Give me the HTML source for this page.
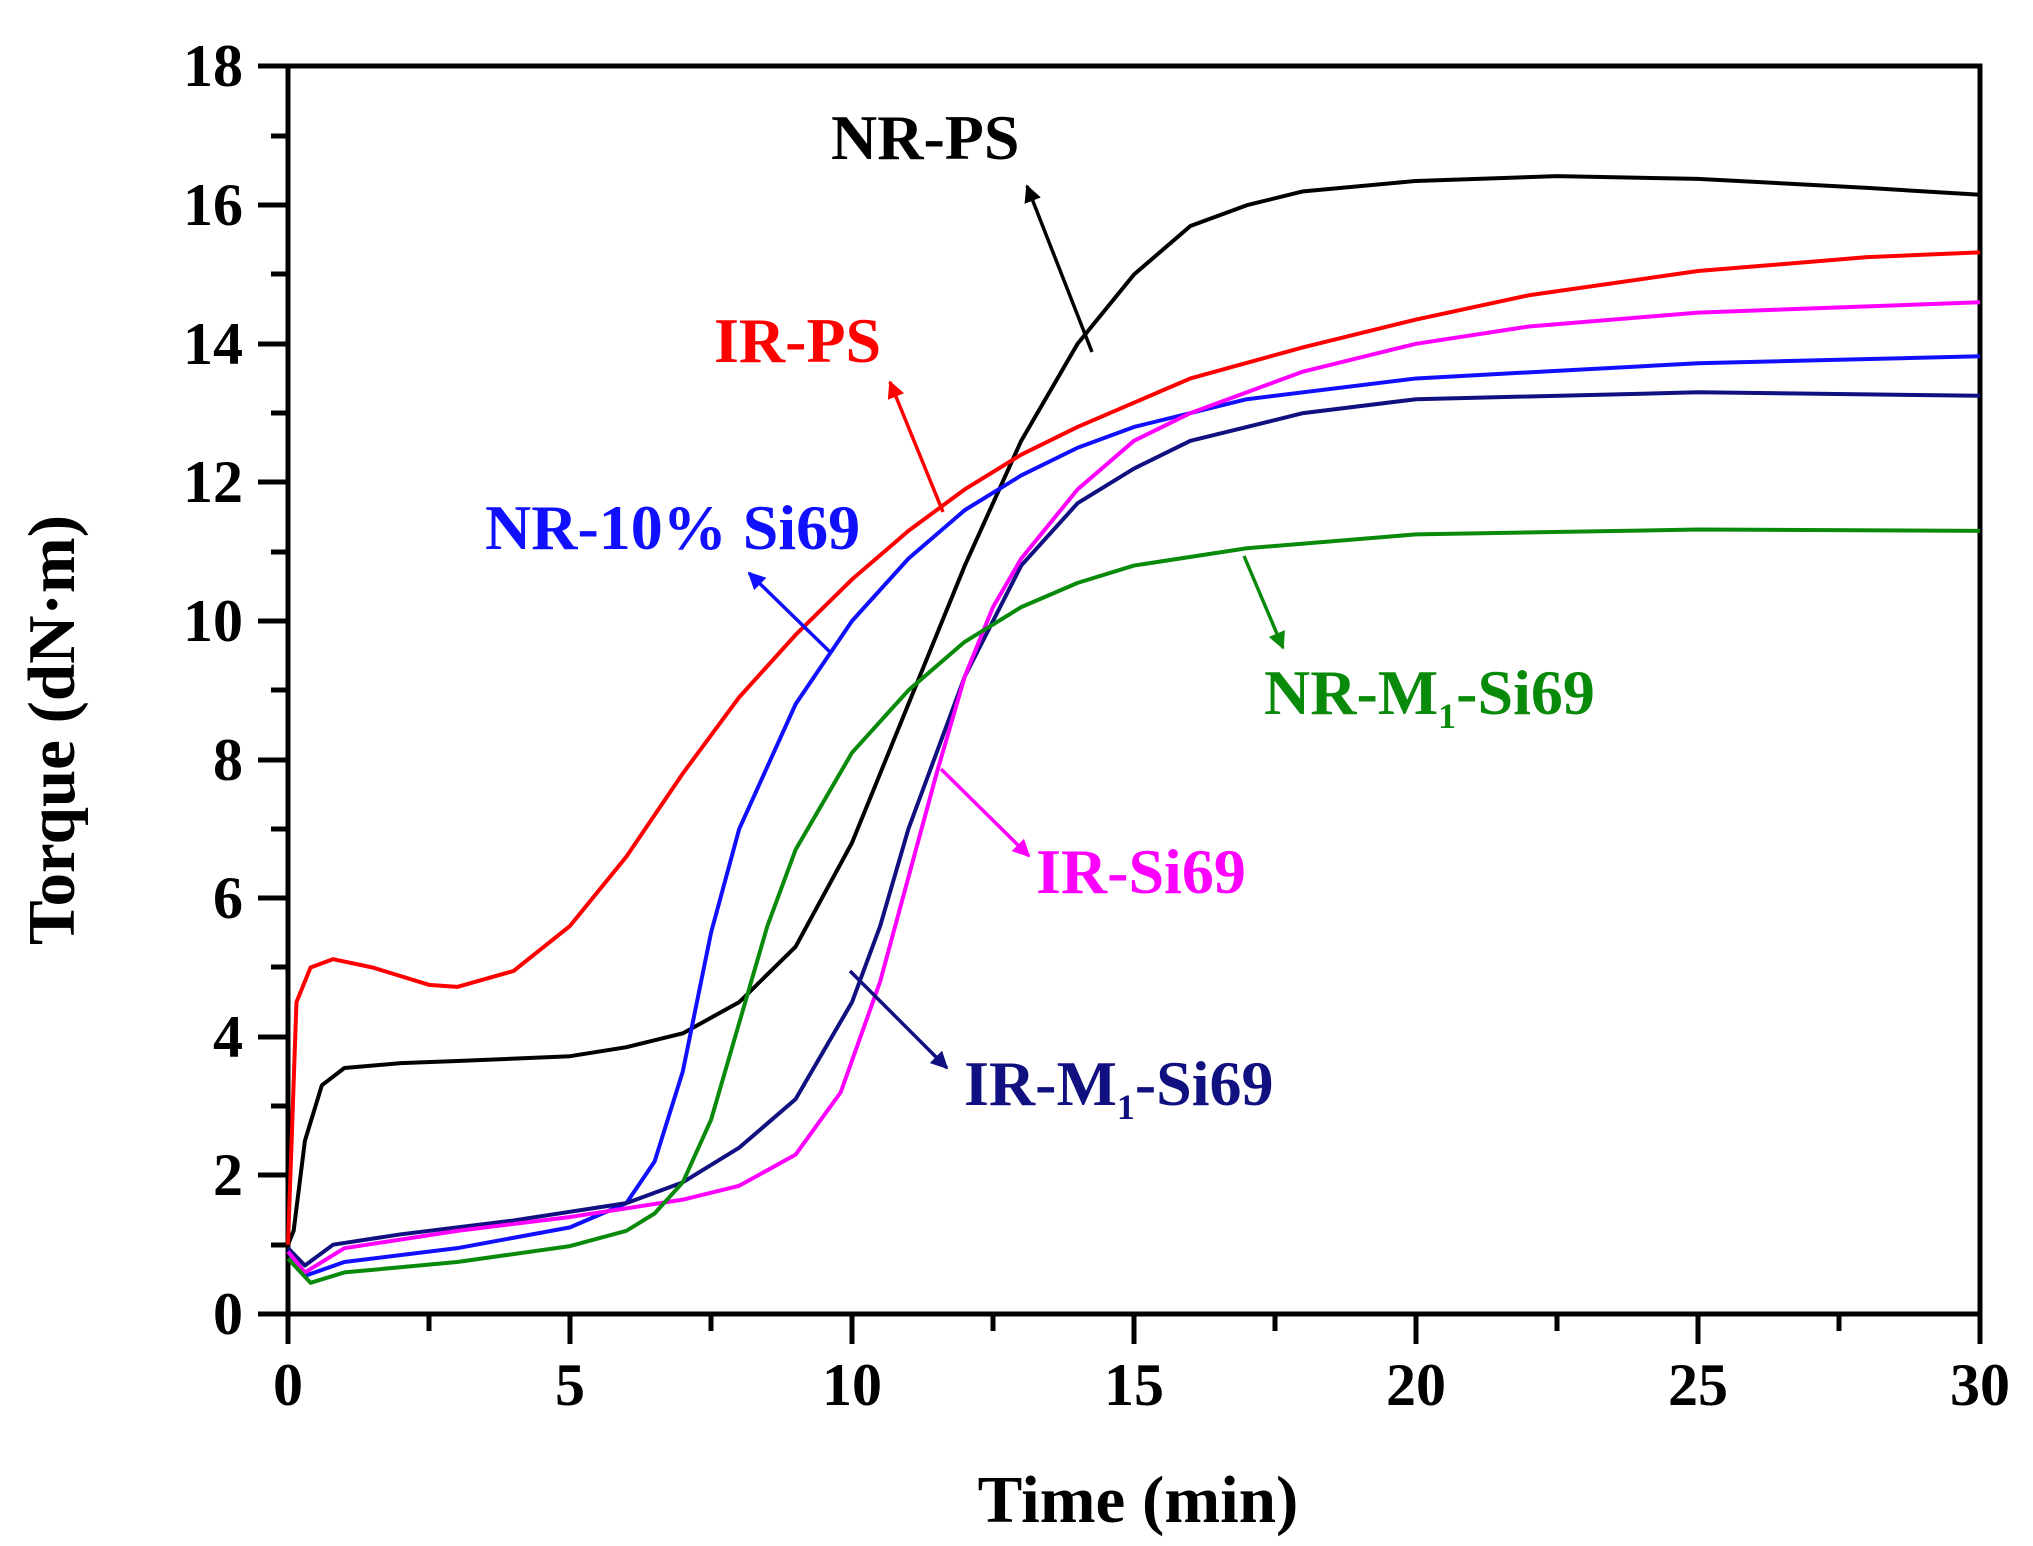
<!DOCTYPE html>
<html><head><style>body{margin:0;background:#fff}svg{display:block}</style></head><body>
<svg width="2033" height="1546" xmlns="http://www.w3.org/2000/svg" font-family="Liberation Serif, serif" font-weight="bold">
<defs>
<marker id="a" viewBox="0 0 10 10" refX="9" refY="5" markerWidth="5" markerHeight="5" orient="auto"><path d="M0,0L10,5L0,10z" fill="context-stroke"/></marker>
</defs>
<g stroke="#000" stroke-width="5" fill="none">
<path d="M288,66H1980V1314H288Z"/>
<path d="M288,1314v30M429,1314v17M570,1314v30M711,1314v17M852,1314v30M993,1314v17M1134,1314v30M1275,1314v17M1416,1314v30M1557,1314v17M1698,1314v30M1839,1314v17M1980,1314v30"/>
<path d="M288,1314h-30M288,1245h-17M288,1175h-30M288,1106h-17M288,1037h-30M288,967h-17M288,898h-30M288,829h-17M288,760h-30M288,690h-17M288,621h-30M288,552h-17M288,482h-30M288,413h-17M288,344h-30M288,274h-17M288,205h-30M288,136h-17M288,66h-30"/>
</g>
<g font-size="60" text-anchor="end">
<text x="243" y="1334">0</text><text x="243" y="1195">2</text><text x="243" y="1057">4</text><text x="243" y="918">6</text><text x="243" y="780">8</text><text x="243" y="641">10</text><text x="243" y="502">12</text><text x="243" y="364">14</text><text x="243" y="225">16</text><text x="243" y="86">18</text>
</g>
<g font-size="60" text-anchor="middle">
<text x="288" y="1405">0</text><text x="570" y="1405">5</text><text x="852" y="1405">10</text><text x="1134" y="1405">15</text><text x="1416" y="1405">20</text><text x="1698" y="1405">25</text><text x="1980" y="1405">30</text>
</g>
<g font-size="67" text-anchor="middle">
<text x="1138" y="1522">Time (min)</text>
<text transform="translate(74,730) rotate(-90)">Torque (dN·m)</text>
</g>
<g transform="translate(288,1314) scale(56.4,-69.3)" fill="none" stroke-width="4" stroke-linejoin="round">
<polyline vector-effect="non-scaling-stroke" stroke="#000" points="0,1.0 0.1,1.2 0.3,2.5 0.6,3.3 1,3.55 2,3.62 3,3.65 5,3.72 6,3.85 7,4.05 8,4.5 9,5.3 10,6.8 11,8.8 12,10.8 13,12.6 14,14.0 15,15.0 16,15.7 17,16.0 18,16.2 20,16.35 22.5,16.42 25,16.38 28,16.25 30,16.15"/>
<polyline vector-effect="non-scaling-stroke" stroke="#f00" points="0,1.0 0.15,4.5 0.4,5.0 0.8,5.12 1.5,5.0 2.5,4.75 3,4.72 4,4.95 5,5.6 6,6.6 7,7.8 8,8.9 9,9.8 10,10.6 11,11.3 12,11.9 13,12.4 14,12.8 15,13.15 16,13.5 18,13.95 20,14.35 22,14.7 25,15.05 28,15.25 30,15.32"/>
<polyline vector-effect="non-scaling-stroke" stroke="#1010ff" points="0,0.9 0.3,0.55 1,0.75 3,0.95 5,1.25 6,1.6 6.5,2.2 7,3.5 7.5,5.5 8,7.0 9,8.8 10,10.0 11,10.9 12,11.6 13,12.1 14,12.5 15,12.8 17,13.2 20,13.5 25,13.72 30,13.82"/>
<polyline vector-effect="non-scaling-stroke" stroke="#101080" points="0,0.95 0.3,0.7 0.8,1.0 2,1.15 4,1.35 6,1.6 7,1.9 8,2.4 9,3.1 10,4.5 10.5,5.6 11,7.0 12,9.2 13,10.8 14,11.7 15,12.2 16,12.6 18,13.0 20,13.2 25,13.3 30,13.25"/>
<polyline vector-effect="non-scaling-stroke" stroke="#f0f" points="0,0.9 0.3,0.6 1,0.95 3,1.2 5,1.4 7,1.65 8,1.85 9,2.3 9.8,3.2 10.5,4.8 11,6.3 11.5,7.8 12,9.2 12.5,10.2 13,10.9 14,11.9 15,12.6 16,13.0 18,13.6 20,14.0 22,14.25 25,14.45 30,14.6"/>
<polyline vector-effect="non-scaling-stroke" stroke="#0a8a0a" points="0,0.8 0.4,0.45 1,0.6 3,0.75 5,0.98 6,1.2 6.5,1.45 7,1.9 7.5,2.8 8,4.2 8.5,5.6 9,6.7 10,8.1 11,9.0 12,9.7 13,10.2 14,10.55 15,10.8 17,11.05 20,11.25 25,11.32 30,11.3"/>
</g>
<g stroke-width="3.5" marker-end="url(#a)">
<line x1="1092" y1="352" x2="1027" y2="186" stroke="#000"/>
<line x1="943" y1="512" x2="890" y2="382" stroke="#f00"/>
<line x1="830" y1="652" x2="749" y2="573" stroke="#1010ff"/>
<line x1="1244" y1="556" x2="1283" y2="648" stroke="#0a8a0a"/>
<line x1="941" y1="769" x2="1029" y2="856" stroke="#f0f"/>
<line x1="850" y1="971" x2="947" y2="1068" stroke="#101080"/>
</g>
<g font-size="64">
<text x="831" y="159" fill="#000">NR-PS</text>
<text x="714" y="362" fill="#f00">IR-PS</text>
<text x="485" y="549" fill="#1010ff">NR-10% Si69</text>
<text x="1264" y="714" fill="#0a8a0a">NR-M<tspan font-size="36" dy="14">1</tspan><tspan dy="-14">-Si69</tspan></text>
<text x="1036" y="893" fill="#f0f">IR-Si69</text>
<text x="964" y="1105" fill="#101080">IR-M<tspan font-size="36" dy="14">1</tspan><tspan dy="-14">-Si69</tspan></text>
</g>
</svg>
</body></html>
